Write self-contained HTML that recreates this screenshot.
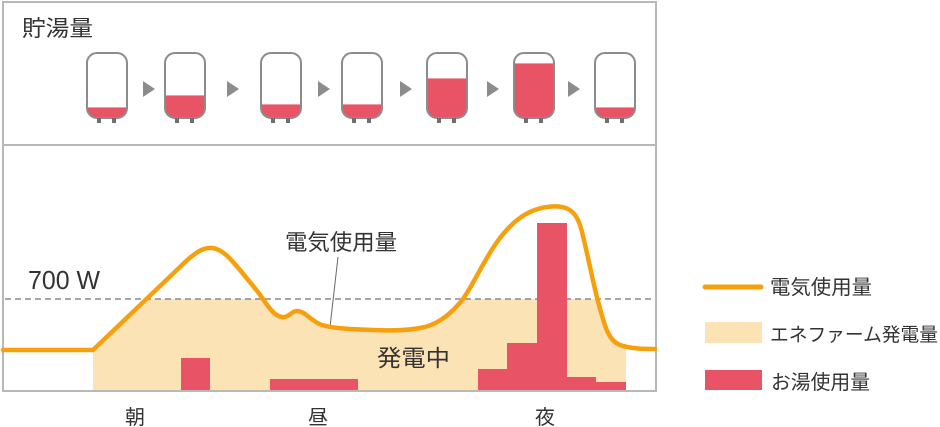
<!DOCTYPE html>
<html><head><meta charset="utf-8">
<style>
html,body{margin:0;padding:0;background:#fff;}
svg{display:block;}
text{font-family:"Liberation Sans","Noto Sans CJK JP",sans-serif;fill:#333;}
</style></head>
<body>
<svg width="940" height="427" viewBox="0 0 940 427" xmlns="http://www.w3.org/2000/svg">
<defs>
  <clipPath id="under">
    <path d="M3,350 L93,350 L180,267 C192,255 202,247 212,248 C222,249 230,258 240,270 L258,292 C266,303 273,316 282,317 C289,318 291,311 297,311 C305,311 312,322 322,325 C332,328 345,329 373,330 C395,331 412,330 425,327 C440,323 452,313 463,299 C473,285 483,262 497,242 C510,224 525,210 547,207 C562,205 574,207 580,225 C585,240 592,280 599,305 C604,322 607,340 620,345 C632,349 645,349 655,349 L655,391 L3,391 Z"/>
  </clipPath>
  <clipPath id="t1"><rect x="87" y="53" width="40" height="65" rx="10"/></clipPath>
  <clipPath id="t2"><rect x="165" y="53" width="40" height="65" rx="10"/></clipPath>
  <clipPath id="t3"><rect x="261" y="53" width="40" height="65" rx="10"/></clipPath>
  <clipPath id="t4"><rect x="342" y="53" width="40" height="65" rx="10"/></clipPath>
  <clipPath id="t5"><rect x="427" y="53" width="40" height="65" rx="10"/></clipPath>
  <clipPath id="t6"><rect x="514" y="53" width="40" height="65" rx="10"/></clipPath>
  <clipPath id="t7"><rect x="595" y="53" width="40" height="65" rx="10"/></clipPath>
</defs>

<!-- frame -->
<rect x="3" y="2" width="653" height="389" fill="#fff" stroke="#b8b8b8" stroke-width="2"/>
<line x1="3" y1="145" x2="656" y2="145" stroke="#b8b8b8" stroke-width="2"/>

<text x="22" y="36" font-size="22" textLength="71" lengthAdjust="spacingAndGlyphs">貯湯量</text>

<!-- tanks -->
<g>
  <g clip-path="url(#t1)"><rect x="87" y="107" width="40" height="20" fill="#e85466"/><line x1="87" y1="107.5" x2="127" y2="107.5" stroke="#f29aa4" stroke-width="1"/></g>
  <g clip-path="url(#t2)"><rect x="165" y="95" width="40" height="30" fill="#e85466"/><line x1="165" y1="95.5" x2="205" y2="95.5" stroke="#f29aa4" stroke-width="1"/></g>
  <g clip-path="url(#t3)"><rect x="261" y="104" width="40" height="20" fill="#e85466"/><line x1="261" y1="104.5" x2="301" y2="104.5" stroke="#f29aa4" stroke-width="1"/></g>
  <g clip-path="url(#t4)"><rect x="342" y="104" width="40" height="20" fill="#e85466"/><line x1="342" y1="104.5" x2="382" y2="104.5" stroke="#f29aa4" stroke-width="1"/></g>
  <g clip-path="url(#t5)"><rect x="427" y="78" width="40" height="50" fill="#e85466"/><line x1="427" y1="78.5" x2="467" y2="78.5" stroke="#f29aa4" stroke-width="1"/></g>
  <g clip-path="url(#t6)"><rect x="514" y="63" width="40" height="60" fill="#e85466"/><line x1="514" y1="63.5" x2="554" y2="63.5" stroke="#f29aa4" stroke-width="1"/></g>
  <g clip-path="url(#t7)"><rect x="595" y="107" width="40" height="20" fill="#e85466"/><line x1="595" y1="107.5" x2="635" y2="107.5" stroke="#f29aa4" stroke-width="1"/></g>
  <g fill="none" stroke="#8c8c8c" stroke-width="2">
    <rect x="87" y="53" width="40" height="65" rx="10"/>
    <rect x="165" y="53" width="40" height="65" rx="10"/>
    <rect x="261" y="53" width="40" height="65" rx="10"/>
    <rect x="342" y="53" width="40" height="65" rx="10"/>
    <rect x="427" y="53" width="40" height="65" rx="10"/>
    <rect x="514" y="53" width="40" height="65" rx="10"/>
    <rect x="595" y="53" width="40" height="65" rx="10"/>
  </g>
  <g fill="#6f6f6f">
    <rect x="97" y="118" width="4" height="5"/><rect x="112" y="118" width="4" height="5"/>
    <rect x="175" y="118" width="4" height="5"/><rect x="190" y="118" width="4" height="5"/>
    <rect x="271" y="118" width="4" height="5"/><rect x="286" y="118" width="4" height="5"/>
    <rect x="352" y="118" width="4" height="5"/><rect x="367" y="118" width="4" height="5"/>
    <rect x="437" y="118" width="4" height="5"/><rect x="452" y="118" width="4" height="5"/>
    <rect x="524" y="118" width="4" height="5"/><rect x="539" y="118" width="4" height="5"/>
    <rect x="605" y="118" width="4" height="5"/><rect x="620" y="118" width="4" height="5"/>
  </g>
  <g fill="#8c8c8c">
    <polygon points="143,81 143,97 155,89"/>
    <polygon points="227,81 227,97 239,89"/>
    <polygon points="318,81 318,97 330,89"/>
    <polygon points="400,81 400,97 412,89"/>
    <polygon points="487,81 487,97 499,89"/>
    <polygon points="568,81 568,97 580,89"/>
  </g>
</g>

<!-- chart -->
<rect x="93" y="299" width="533" height="92" fill="#fce3b5" clip-path="url(#under)"/>
<line x1="5" y1="299" x2="655" y2="299" stroke="#8a8a8a" stroke-width="1.5" stroke-dasharray="6,4"/>

<g fill="#e85466">
  <rect x="181" y="358" width="29" height="33"/>
  <rect x="270" y="379" width="88" height="12"/>
  <rect x="478" y="369" width="29" height="22"/>
  <rect x="507" y="343" width="30" height="48"/>
  <rect x="537" y="223" width="30" height="168"/>
  <rect x="567" y="377" width="29" height="14"/>
  <rect x="596" y="382" width="30" height="9"/>
</g>
<line x1="3" y1="391" x2="656" y2="391" stroke="#b8b8b8" stroke-width="2"/>

<line x1="338" y1="257" x2="330" y2="327" stroke="#666" stroke-width="1"/>

<path d="M3,350 L93,350 L180,267 C192,255 202,247 212,248 C222,249 230,258 240,270 L258,292 C266,303 273,316 282,317 C289,318 291,311 297,311 C305,311 312,322 322,325 C332,328 345,329 373,330 C395,331 412,330 425,327 C440,323 452,313 463,299 C473,285 483,262 497,242 C510,224 525,210 547,207 C562,205 574,207 580,225 C585,240 592,280 599,305 C604,322 607,340 620,345 C632,349 645,349 655,349" fill="none" stroke="#f5a00c" stroke-width="4.5" stroke-linejoin="round" stroke-linecap="round"/>

<text x="28" y="289" font-size="26" textLength="72" lengthAdjust="spacingAndGlyphs">700 W</text>
<text x="285" y="250" font-size="22" textLength="112" lengthAdjust="spacingAndGlyphs">電気使用量</text>
<text x="377" y="366" font-size="23" textLength="73" lengthAdjust="spacingAndGlyphs">発電中</text>

<text x="125" y="424" font-size="20" textLength="20" lengthAdjust="spacingAndGlyphs">朝</text>
<text x="308" y="424" font-size="20" textLength="20" lengthAdjust="spacingAndGlyphs">昼</text>
<text x="535" y="424" font-size="20" textLength="20" lengthAdjust="spacingAndGlyphs">夜</text>

<!-- legend -->
<line x1="705" y1="287" x2="761" y2="287" stroke="#f5a00c" stroke-width="5" stroke-linecap="round"/>
<text x="770" y="294" font-size="20" textLength="102" lengthAdjust="spacingAndGlyphs">電気使用量</text>
<rect x="705" y="322" width="57" height="21" fill="#fce3b5"/>
<text x="770" y="341" font-size="19" textLength="168" lengthAdjust="spacingAndGlyphs">エネファーム発電量</text>
<rect x="705" y="370" width="57" height="20" fill="#e85466"/>
<text x="771" y="389" font-size="20" textLength="99" lengthAdjust="spacingAndGlyphs">お湯使用量</text>
</svg>
</body></html>
